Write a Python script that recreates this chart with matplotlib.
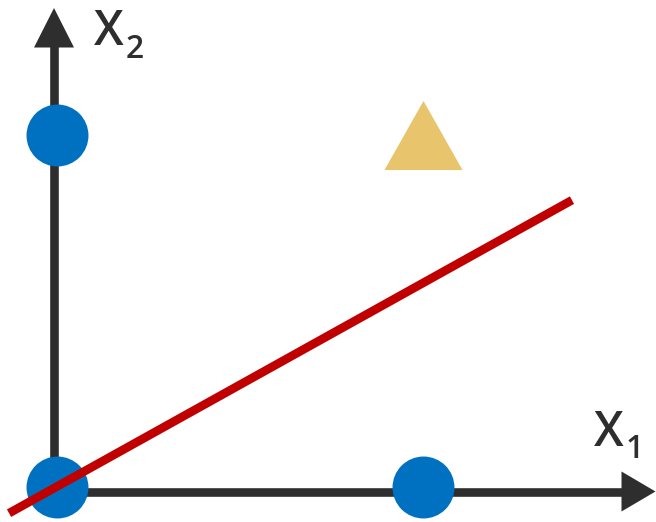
import matplotlib
matplotlib.use("Agg")
import matplotlib.pyplot as plt
from matplotlib.patches import Polygon
from matplotlib.path import Path
import numpy as np

# Points of the two classes in the (x1, x2) plane
blue_x1 = [0.0, 0.0, 1.0]
blue_x2 = [0.0, 1.0, 0.0]
tri_x1 = [1.0]
tri_x2 = [1.0]

# Separating line x2 = slope * x1 + intercept, drawn over this x1 range
line_slope = 0.579
line_intercept = 0.0
line_x1 = [-0.131, 1.407]

axis_labels = ["X", "X"]
axis_subs = ["1", "2"]

W, H, DPI = 656, 522, 100
fig = plt.figure(figsize=(W / DPI, H / DPI), dpi=DPI)
ax = fig.add_axes([0, 0, 1, 1])

# pixel layout of the origin and unit lengths
ox, oy = 57.0, 486.5
ux, uy = 366.0, 351.5
ax.set_xlim(-ox / ux, (W - ox) / ux)
ax.set_ylim((oy - H) / uy, oy / uy)
ax.axis("off")


def P(px, py):
    """Pixel position (from top-left) to data coordinates."""
    return ((px - ox) / ux, (oy - py) / uy)


axis_col = "#2E2E2E"
lw_axis = 6.2

# vertical axis with arrowhead
(vx0, vy0), (vx1, vy1) = P(54, 496), P(54, 46)
ax.plot([vx0, vx1], [vy0, vy1], color=axis_col, lw=lw_axis, solid_capstyle="butt", zorder=1)
ax.add_patch(Polygon([P(54, 8), P(34, 47.5), P(74, 47.5)], closed=True,
                     facecolor=axis_col, edgecolor="none", zorder=1))

# horizontal axis with arrowhead
(hx0, hy0), (hx1, hy1) = P(50, 491.5), P(623, 491.5)
ax.plot([hx0, hx1], [hy0, hy1], color=axis_col, lw=lw_axis, solid_capstyle="butt", zorder=1)
ax.add_patch(Polygon([P(655.5, 491.5), P(621.5, 471.5), P(621.5, 511.5)], closed=True,
                     facecolor=axis_col, edgecolor="none", zorder=1))

# blue circles
ax.plot(blue_x1, blue_x2, linestyle="none", marker="o", markersize=44.6,
        markerfacecolor="#0070C0", markeredgecolor="none", zorder=2)

# yellow triangle (slightly wider than tall)
tri_marker = Path([(0, 0.885), (-1, -0.885), (1, -0.885), (0, 0.885)],
                  [Path.MOVETO, Path.LINETO, Path.LINETO, Path.CLOSEPOLY])
ax.plot(tri_x1, tri_x2, linestyle="none", marker=tri_marker, markersize=56.2,
        markerfacecolor="#E8C46C", markeredgecolor="none", zorder=2)

# red separating line
lx = np.array(line_x1)
ax.plot(lx, line_slope * lx + line_intercept, color="#C00000", lw=6.2,
        solid_capstyle="butt", zorder=3)

# axis labels X1, X2
font = "Open Sans"
txt_col = "#2E2E2E"
for (bx, by, sx, sy), lab, sub in zip(
        [(594, 445.7, 626, 458.3), (94, 45, 126, 57.7)], axis_labels, axis_subs):
    ax.text(*P(bx, by), lab, fontsize=34.3, family=font, weight="semibold",
            color=txt_col, ha="left", va="baseline", zorder=4)
    ax.text(*P(sx, sy), sub, fontsize=22.9, family=font, weight="semibold",
            color=txt_col, ha="left", va="baseline", zorder=4)

fig.savefig("out.png", dpi=DPI, facecolor="white")
